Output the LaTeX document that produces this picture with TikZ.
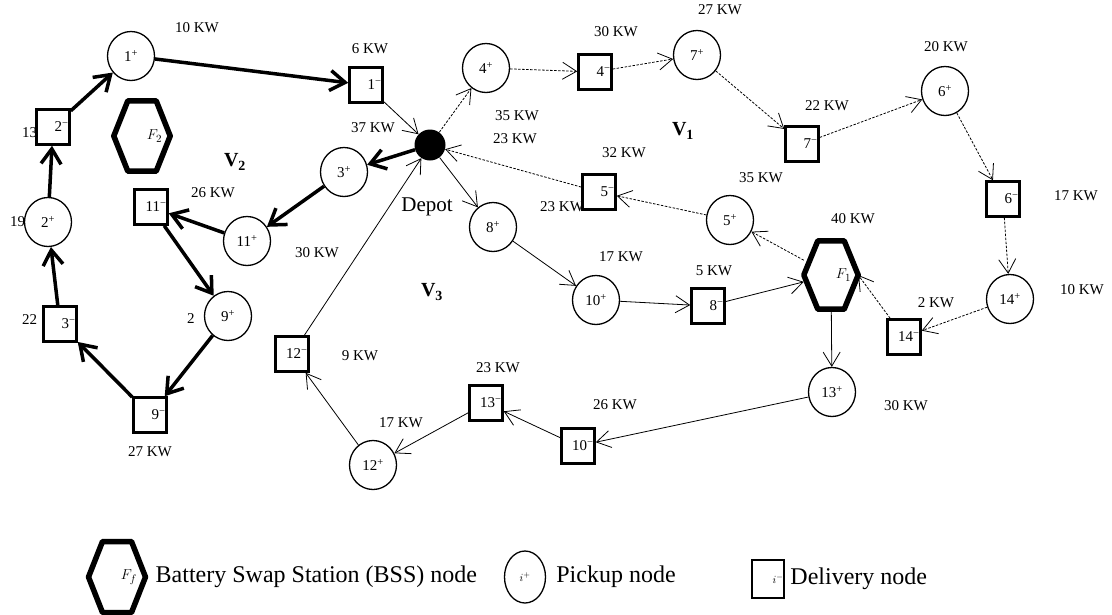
\documentclass[tikz,border=0pt]{standalone}
\usepackage{fontspec}
\setmainfont{Liberation Serif}
\usetikzlibrary{shapes.geometric,arrows.meta,positioning}

\begin{document}
\begin{tikzpicture}[x=1pt, y=-1pt, node distance={10pt},
    pick/.style = {draw, ellipse, line width=1.3pt, fill=white, minimum width=47pt, minimum height=49pt, inner sep=0pt, font=\fontsize{15}{18}\selectfont},
    del/.style = {draw, rectangle, line width=2.5pt, fill=white, minimum width=33pt, minimum height=35pt, inner sep=0pt, text width=31pt, align=right, font=\fontsize{15}{18}\selectfont},
    bss/.style = {minimum width=54pt, minimum height=68pt, inner sep=0pt, text width=40pt, align=right, font=\fontsize{15}{18}\selectfont,
        append after command={\pgfextra{\draw[line width=5.5pt, line join=round] (\tikzlastnode.west) -- ([xshift=14pt]\tikzlastnode.north west) -- ([xshift=-14pt]\tikzlastnode.north east) -- (\tikzlastnode.east) -- ([xshift=-14pt]\tikzlastnode.south east) -- ([xshift=14pt]\tikzlastnode.south west) -- cycle;}}},
    depot/.style = {circle, fill=black, minimum size=31pt, inner sep=0pt},
    kw/.style = {inner sep=0pt, font=\fontsize{15}{18}\selectfont},
    route/.style = {inner sep=0pt, font=\fontsize{20}{24}\selectfont\bfseries},
    legend/.style = {inner sep=0pt, font=\fontsize{24}{28}\selectfont},
    v1/.style = {-{Straight Barb[length=14pt,width=17pt]}, line width=0.8pt, dash pattern=on 2.5pt off 1.5pt},
    v2/.style = {-{Straight Barb[length=15pt,width=20pt]}, line width=3.5pt},
    v3/.style = {-{Straight Barb[length=14pt,width=17pt]}, line width=0.8pt}]
        \useasboundingbox (0,0) rectangle (1112,614);

        \node[kw] (k1) at (197,28) {10 KW};
        \node[kw] (k2) at (370,49) {6 KW};
        \node[kw, anchor=west] (k3) at (22,133) {13};
        \node[kw, anchor=west] (k4) at (10,222) {19};
        \node[kw, anchor=west] (k5) at (22,320) {22};
        \node[kw, anchor=west] (k6) at (187,319) {2};
        \node[kw] (k7) at (150,452) {27 KW};
        \node[kw] (k8) at (213,193) {26 KW};
        \node[kw] (k9) at (317,253) {30 KW};
        \node[kw] (k10) at (373,128) {37 KW};
        \node[kw] (k11) at (517,116) {35 KW};
        \node[kw] (k12) at (515,139) {23 KW};
        \node[kw, anchor=west] (k13) at (540,207) {23 KW};
        \node[kw] (k14) at (616,32) {30 KW};
        \node[kw] (k15) at (720,10) {27 KW};
        \node[kw] (k16) at (827,106) {22 KW};
        \node[kw] (k17) at (946,47) {20 KW};
        \node[kw] (k18) at (624,153) {32 KW};
        \node[kw] (k19) at (761,178) {35 KW};
        \node[kw] (k20) at (1076,196) {17 KW};
        \node[kw] (k21) at (853,219) {40 KW};
        \node[kw] (k22) at (1082,290) {10 KW};
        \node[kw] (k23) at (936,303) {2 KW};
        \node[kw] (k24) at (621,257) {17 KW};
        \node[kw] (k25) at (714,271) {5 KW};
        \node[kw] (k26) at (906,406) {30 KW};
        \node[kw] (k27) at (615,405) {26 KW};
        \node[kw] (k28) at (498,368) {23 KW};
        \node[kw] (k29) at (401,423) {17 KW};
        \node[kw] (k30) at (360,356) {9 KW};

        \node[route] (r1) at (683,131) {V\textsubscript{1}};
        \node[route] (r2) at (235,162) {V\textsubscript{2}};
        \node[route] (r3) at (432,292) {V\textsubscript{3}};

        \node[depot] (depot) at (430,145) {};
        \node[inner sep=0pt, font=\fontsize{21}{24}\selectfont] (dl) at (427,207) {Depot};

        \node[pick] (p1) at (131,56) {1\textsuperscript{+}};
        \node[pick] (p2) at (48,222) {2\textsuperscript{+}};
        \node[pick] (p3) at (344,172) {3\textsuperscript{+}};
        \node[pick] (p4) at (486,68) {4\textsuperscript{+}};
        \node[pick] (p5) at (730,220) {5\textsuperscript{+}};
        \node[pick] (p6) at (945,91) {6\textsuperscript{+}};
        \node[pick] (p7) at (697,55) {7\textsuperscript{+}};
        \node[pick] (p8) at (493,227) {8\textsuperscript{+}};
        \node[pick] (p9) at (228,316) {9\textsuperscript{+}};
        \node[pick] (p10) at (596,300) {10\textsuperscript{+}};
        \node[pick] (p11) at (247,241) {11\textsuperscript{+}};
        \node[pick] (p12) at (373,465) {12\textsuperscript{+}};
        \node[pick] (p13) at (832,392) {13\textsuperscript{+}};
        \node[pick] (p14) at (1010,299) {14\textsuperscript{+}};

        \node[del] (d1) at (366,85) {1\textsuperscript{−}};
        \node[del] (d2) at (53,127) {2\textsuperscript{−}};
        \node[del] (d3) at (60,324) {3\textsuperscript{−}};
        \node[del] (d4) at (595,72) {4\textsuperscript{−}};
        \node[del] (d5) at (599,192) {5\textsuperscript{−}};
        \node[del] (d6) at (1003,199) {6\textsuperscript{−}};
        \node[del] (d7) at (802,144) {7\textsuperscript{−}};
        \node[del] (d8) at (708,306) {8\textsuperscript{−}};
        \node[del] (d9) at (150,415) {9\textsuperscript{−}};
        \node[del] (d10) at (578,446) {10\textsuperscript{−}};
        \node[del] (d11) at (151,207) {11\textsuperscript{−}};
        \node[del] (d12) at (292,354) {12\textsuperscript{−}};
        \node[del] (d13) at (486,403) {13\textsuperscript{−}};
        \node[del] (d14) at (904,337) {14\textsuperscript{−}};

        \node[bss] (f1) at (831,275) {$F_1$};
        \node[bss, minimum width=56pt, minimum height=70pt] (f2) at (142,136) {$F_2$};

        \draw[v2] (depot) -- (p3);
        \draw[v2] (p3) -- (p11);
        \draw[v2] (p11) -- (d11);
        \draw[v2] (d11) -- (p9);
        \draw[v2] (p9) -- (d9);
        \draw[v2] (d9) -- (d3);
        \draw[v2] (d3) -- (p2);
        \draw[v2] (p2) -- (d2);
        \draw[v2] (d2) -- (p1);
        \draw[v2] (p1) -- (d1);
        \draw[v3] (d1) -- (depot);

        \draw[v1] (depot) -- (p4);
        \draw[v1] (p4) -- (d4);
        \draw[v1] (d4) -- (p7);
        \draw[v1] (p7) -- (d7);
        \draw[v1] (d7) -- (p6);
        \draw[v1] (p6) -- (d6);
        \draw[v1] (d6) -- (p14);
        \draw[v1] (p14) -- (d14);
        \draw[v1] (d14) -- (f1.east);
        \draw[v1] (f1) -- (p5);
        \draw[v1] (p5) -- (d5);
        \draw[v1] (d5) -- (depot);

        \draw[v3] (depot) -- (p8);
        \draw[v3] (p8) -- (p10);
        \draw[v3] (p10) -- (d8);
        \draw[v3] (d8) -- (f1);
        \draw[v3] (f1) -- (p13);
        \draw[v3] (p13) -- (d10);
        \draw[v3] (d10) -- (d13);
        \draw[v3] (d13) -- (p12);
        \draw[v3] (p12) -- (d12);
        \draw[v3] (d12) -- (depot);

        \node[bss, minimum width=52pt, minimum height=66pt, line width=5pt] (lf) at (117,577) {$F_f$};
        \node[legend] (lft) [right=10pt of lf] {Battery Swap Station (BSS) node};
        \node[pick, minimum width=41pt, minimum height=52pt, font=\fontsize{11}{13}\selectfont] (lp) at (525,577) {$i^+$};
        \node[legend] (lpt) [right=10pt of lp] {Pickup node};
        \node[del, minimum width=32pt, minimum height=38pt, font=\fontsize{11}{13}\selectfont] (ld) at (768,579) {$i^-$};
        \node[legend] (ldt) [right=5pt of ld] {Delivery node};
\end{tikzpicture}
\end{document}
